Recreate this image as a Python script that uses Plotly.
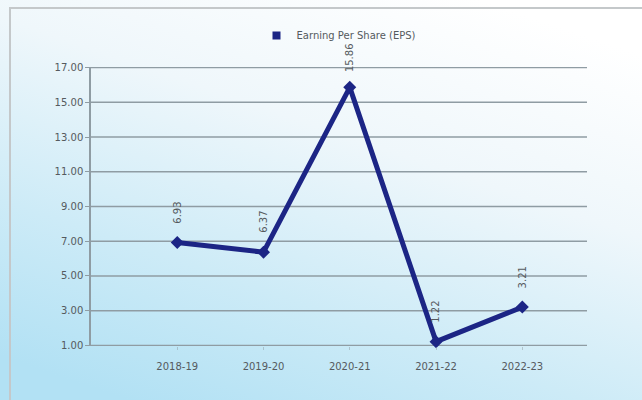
import plotly.graph_objects as go

# Earnings per share by financial year
years = ["2018-19", "2019-20", "2020-21", "2021-22", "2022-23"]
eps = [6.93, 6.37, 15.86, 1.22, 3.21]
y_ticks = [1, 3, 5, 7, 9, 11, 13, 15, 17]

LINE_COLOR = "#1c2585"
GRID_COLOR = "#8f9ca3"
TEXT_COLOR = "#555a5e"
FONT = "DejaVu Sans"

# soft white-to-sky-blue backdrop as an inline SVG
bg_svg = (
    "data:image/svg+xml;utf8,"
    "<svg xmlns='http://www.w3.org/2000/svg' width='642' height='400'>"
    "<defs><linearGradient id='g' x1='0.75' y1='0' x2='0.2' y2='1'>"
    "<stop offset='0' stop-color='%23ffffff'/>"
    "<stop offset='0.35' stop-color='%23eff7fb'/>"
    "<stop offset='0.7' stop-color='%23cdebf7'/>"
    "<stop offset='1' stop-color='%23b2e1f4'/>"
    "</linearGradient></defs>"
    "<rect width='642' height='400' fill='url(%23g)'/>"
    "</svg>"
)

fig = go.Figure()

fig.add_trace(go.Scatter(
    x=years, y=eps,
    mode="lines+markers",
    line=dict(color=LINE_COLOR, width=5),
    marker=dict(symbol="diamond", size=10, color=LINE_COLOR),
    showlegend=False,
    cliponaxis=False,
))

# legend entry drawn as a plain square swatch
fig.add_trace(go.Scatter(
    x=[None], y=[None], mode="markers",
    marker=dict(symbol="square", size=8, color=LINE_COLOR),
    name="Earning Per Share (EPS)",
    showlegend=True,
))

# value labels rotated to read bottom-to-top above each point
for x, v in zip(years, eps):
    fig.add_annotation(
        x=x, y=v, text=f"{v:.2f}", textangle=-90,
        showarrow=False, yshift=30,
        font=dict(size=10, color=TEXT_COLOR, family=FONT),
    )

# horizontal gridlines at every tick, including both ends of the range
grid_shapes = [
    dict(type="line", xref="paper", yref="y", x0=0, x1=1, y0=t, y1=t,
         line=dict(color=GRID_COLOR, width=1.5), layer="below")
    for t in y_ticks
]

frame = dict(
    type="rect", xref="paper", yref="paper",
    x0=(10 - 91) / 496, x1=(660 - 91) / 496,
    y0=1 - (420 - 67) / 279, y1=1 + (67 - 8) / 279,
    line=dict(color="#c4c8ca", width=2),
    layer="below",
)

fig.update_layout(
    width=642, height=400,
    margin=dict(l=91, r=55, t=67, b=54),
    paper_bgcolor="rgba(0,0,0,0)",
    plot_bgcolor="rgba(0,0,0,0)",
    font=dict(family=FONT, size=10, color=TEXT_COLOR),
    images=[dict(
        source=bg_svg, xref="paper", yref="paper",
        x=-91 / 496, y=1 + 67 / 279,
        sizex=642 / 496, sizey=400 / 279,
        xanchor="left", yanchor="top",
        sizing="stretch", layer="below",
    )],
    shapes=[frame] + grid_shapes,
    legend=dict(
        orientation="h", x=0.5, xanchor="center",
        y=1 + (67 - 21) / 279, yanchor="top",
        font=dict(size=10, color=TEXT_COLOR, family=FONT),
        bgcolor="rgba(0,0,0,0)",
    ),
    xaxis=dict(
        type="category", range=[-1, 4.75],
        showgrid=False, zeroline=False,
        showline=False,
        ticks="outside", ticklen=3, tickcolor="rgba(143,156,163,0.5)",
        ticklabelstandoff=8,
        tickfont=dict(size=10, color=TEXT_COLOR, family=FONT),
    ),
    yaxis=dict(
        range=[0.97, 17.03], tickvals=y_ticks,
        tickformat=".2f",
        showgrid=False,
        zeroline=False,
        showline=True, linecolor=GRID_COLOR, linewidth=1.5,
        ticks="outside", ticklen=4, tickcolor=GRID_COLOR,
        tickfont=dict(size=10, color=TEXT_COLOR, family=FONT),
    ),
)

fig.write_html("out.html")
